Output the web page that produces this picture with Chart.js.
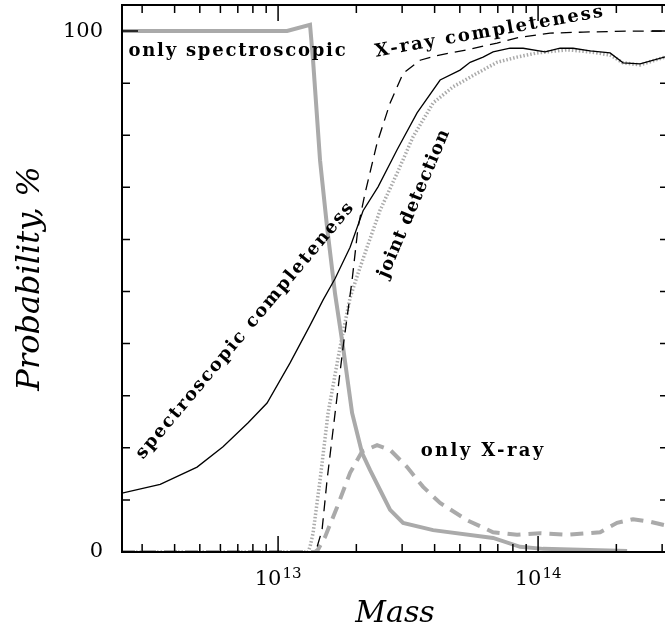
<!DOCTYPE html>
<html>
<head>
<meta charset="utf-8">
<script src="https://cdn.jsdelivr.net/npm/chart.js@4/dist/chart.umd.min.js"></script>
<style>
  html, body { margin: 0; padding: 0; overflow: hidden; background: #fff; }
  #wrap { width: 669px; height: 631px; }
</style>
</head>
<body>
<div id="wrap"><canvas id="myChart" width="669" height="631"></canvas></div>
<script>
// spectroscopic completeness (thin black)
const specMass = [2.51e12, 3.52e12, 4.88e12, 6.14e12, 7.67e12, 9.07e12, 1.112e13, 1.327e13, 1.49e13, 1.657e13,
  1.892e13, 2.123e13, 2.424e13, 2.869e13, 3.424e13, 4.2e13, 5.01e13, 5.477e13, 6.145e13, 6.713e13,
  7.8e13, 8.76e13, 1.064e14, 1.215e14, 1.363e14, 1.585e14, 1.892e14, 2.123e14, 2.468e14, 3.16e14]
const specProb = [11.3, 13.0, 16.3, 20.2, 24.8, 28.6, 36.3, 43.5, 48.4, 52.5,
  58.5, 65.5, 70.1, 77.2, 84.3, 90.6, 92.5, 94.0, 95.0, 96.0,
  96.7, 96.7, 96.0, 96.7, 96.7, 96.2, 95.8, 93.9, 93.7, 95.2]

// X-ray completeness (black dashed)
const xrayMass = [2.51e12, 1.363e13, 1.413e13, 1.476e13, 1.543e13, 1.657e13, 1.778e13, 1.926e13, 2.031e13, 2.161e13,
  2.403e13, 2.697e13, 3.026e13, 3.517e13, 4.089e13, 5.333e13, 6.955e13, 8.3e13, 1.112e14, 1.49e14, 2.259e14, 3.16e14]
const xrayProb = [0, 0, 1.0, 4.2, 13.8, 26.7, 39.3, 52.2, 62.4, 68.9,
  78.5, 86.2, 91.9, 94.4, 95.3, 96.4, 97.7, 98.7, 99.6, 99.8, 100, 100]

// joint detection (grey dotted)
const jointMass = [2.51e12, 1.304e13, 1.327e13, 1.363e13, 1.45e13, 1.557e13, 1.731e13, 1.892e13, 2.031e13, 2.199e13,
  2.468e13, 2.869e13, 3.305e13, 3.946e13, 4.711e13, 5.827e13, 6.955e13, 8.3e13, 9.91e13, 1.293e14,
  1.585e14, 1.892e14, 2.123e14, 2.468e14, 3.16e14]
const jointProb = [0, 0, 1.0, 3.6, 13.8, 26.7, 39.3, 48.8, 53.5, 58.5,
  65.6, 72.7, 79.7, 86.2, 89.3, 91.9, 94.0, 95.0, 95.8, 96.4,
  96.0, 95.4, 93.9, 93.5, 95.2]

// only spectroscopic (thick grey)
const onlySpecMass = [2.51e12, 1.083e13, 1.327e13, 1.363e13, 1.45e13, 1.543e13, 1.657e13, 1.778e13, 1.926e13, 2.104e13,
  2.259e13, 2.468e13, 2.697e13, 3.026e13, 3.946e13, 6.713e13, 8.53e13, 1.045e14, 2.2e14]
const onlySpecProb = [100, 100, 101.2, 94.4, 75.2, 62.4, 49.5, 39.3, 26.7, 19.0,
  15.7, 11.9, 8.1, 5.6, 4.2, 2.7, 1.0, 0.6, 0.2]

// only X-ray (thick grey dashed)
const onlyXrayMass = [2.51e12, 1.388e13, 1.425e13, 1.516e13, 1.686e13, 1.892e13, 2.104e13, 2.403e13, 2.697e13, 3.135e13,
  3.613e13, 4.2e13, 5.333e13, 6.713e13, 8.3e13, 1.018e14, 1.293e14, 1.732e14, 2.013e14, 2.32e14, 2.697e14, 3.16e14]
const onlyXrayProb = [0, 0, 0.5, 2.9, 8.6, 15.2, 19.3, 20.5, 19.6, 16.3,
  12.5, 9.4, 6.1, 3.8, 3.3, 3.6, 3.3, 3.8, 5.6, 6.3, 5.8, 5.0]

const xMajorTicks = [1e13, 1e14]
const xMinorTicks = [3e12, 4e12, 5e12, 6e12, 7e12, 8e12, 9e12,
  2e13, 3e13, 4e13, 5e13, 6e13, 7e13, 8e13, 9e13, 2e14, 3e14]
const yLabelTicks = [0, 100]
const yMinorTicks = [10, 20, 30, 40, 50, 60, 70, 80, 90]

const toPoints = (xs, ys) => xs.map((m, i) => ({ x: m, y: ys[i] }))

const notes = [
  { text: 'only spectroscopic', x: 237, y: 51, angle: 0, width: 219 },
  { text: 'X-ray completeness', x: 489, y: 32, angle: -10, width: 233 },
  { text: 'spectroscopic completeness', x: 245, y: 331, angle: -50, width: 330 },
  { text: 'joint detection', x: 414, y: 204, angle: -67, width: 160 },
  { text: 'only X-ray', x: 482, y: 451, angle: 0, width: 125 }
]

const frameAndNotes = {
  id: 'frameAndNotes',
  afterDatasetsDraw(chart) {
    const { ctx, chartArea: a, scales: { x, y } } = chart
    ctx.save()
    ctx.strokeStyle = '#000'
    ctx.lineWidth = 1.5
    ctx.beginPath()
    const yTick = (v, len) => {
      const py = y.getPixelForValue(v)
      ctx.moveTo(a.left, py); ctx.lineTo(a.left + len, py)
      ctx.moveTo(a.right, py); ctx.lineTo(a.right - len, py)
    }
    const xTick = (v, len) => {
      const px = x.getPixelForValue(v)
      ctx.moveTo(px, a.bottom); ctx.lineTo(px, a.bottom - len)
      ctx.moveTo(px, a.top); ctx.lineTo(px, a.top + len)
    }
    yLabelTicks.forEach(v => yTick(v, 16))
    yMinorTicks.forEach(v => yTick(v, 8))
    xMajorTicks.forEach(v => xTick(v, 16))
    xMinorTicks.forEach(v => xTick(v, 8))
    ctx.stroke()
    ctx.lineWidth = 2
    ctx.strokeRect(a.left, a.top, a.right - a.left, a.bottom - a.top)

    // x tick labels: 10 with a raised exponent
    ctx.fillStyle = '#000'
    ctx.textBaseline = 'alphabetic'
    for (const v of xMajorTicks) {
      const px = x.getPixelForValue(v)
      const exp = String(Math.round(Math.log10(v)))
      ctx.font = '21px "DejaVu Serif"'
      const wb = ctx.measureText('10').width
      ctx.font = '15px "DejaVu Serif"'
      const we = ctx.measureText(exp).width
      const x0 = px - (wb + we + 1) / 2
      ctx.textAlign = 'left'
      ctx.font = '21px "DejaVu Serif"'
      ctx.fillText('10', x0, a.bottom + 33)
      ctx.font = '15px "DejaVu Serif"'
      ctx.fillText(exp, x0 + wb + 1, a.bottom + 26)
    }

    ctx.font = 'bold 18px "DejaVu Serif"'
    ctx.textAlign = 'center'
    ctx.textBaseline = 'middle'
    for (const n of notes) {
      ctx.letterSpacing = '0px'
      const w = ctx.measureText(n.text).width
      const ls = (n.width - w) / n.text.length
      ctx.letterSpacing = ls + 'px'
      ctx.save()
      ctx.translate(n.x, n.y)
      ctx.rotate(n.angle * Math.PI / 180)
      ctx.fillText(n.text, ls / 2, 0)
      ctx.restore()
    }
    ctx.restore()
  }
}

const ctx = document.getElementById('myChart')
new Chart(ctx, {
  type: 'line',
  data: {
    datasets: [
      { data: toPoints(specMass, specProb), borderColor: '#000', borderWidth: 1.3 },
      { data: toPoints(xrayMass, xrayProb), borderColor: '#000', borderWidth: 1.3, borderDash: [11, 7] },
      { data: toPoints(jointMass, jointProb), borderColor: '#aaaaaa', borderWidth: 3.5, borderDash: [1.5, 2] },
      { data: toPoints(onlySpecMass, onlySpecProb), borderColor: '#aaaaaa', borderWidth: 4 },
      { data: toPoints(onlyXrayMass, onlyXrayProb), borderColor: '#aaaaaa', borderWidth: 4, borderDash: [13, 8] }
    ]
  },
  options: {
    responsive: false,
    animation: false,
    devicePixelRatio: 1,
    layout: { padding: { left: 0, top: 5, right: 1, bottom: 0 } },
    elements: {
      point: { radius: 0 },
      line: { tension: 0, fill: false, borderCapStyle: 'butt' }
    },
    scales: {
      x: {
        type: 'logarithmic',
        min: 2.51e12,
        max: 3.16e14,
        grid: { display: false },
        border: { display: false },
        afterBuildTicks: (s) => { s.ticks = xMajorTicks.map(v => ({ value: v })) },
        afterFit: (s) => { s.height = 79; s.paddingLeft = 0; s.paddingRight = 0 },
        ticks: { display: false },
        title: {
          display: true,
          text: 'Mass',
          color: '#000',
          padding: { top: 0, bottom: 0 },
          font: { family: '"DejaVu Serif"', size: 30, style: 'italic', lineHeight: 1.1 }
        }
      },
      y: {
        min: 0,
        max: 105,
        grid: { display: false },
        border: { display: false },
        afterBuildTicks: (s) => { s.ticks = yLabelTicks.map(v => ({ value: v })) },
        afterFit: (s) => { s.width = 122; s.paddingTop = 0; s.paddingBottom = 0 },
        ticks: {
          padding: 11,
          color: '#000',
          font: { family: '"DejaVu Serif"', size: 21 }
        },
        title: {
          display: true,
          text: 'Probability, %',
          color: '#000',
          padding: { top: 11, bottom: 0 },
          font: { family: '"DejaVu Serif"', size: 32, style: 'italic' }
        }
      }
    },
    plugins: {
      legend: { display: false },
      tooltip: { enabled: false }
    }
  },
  plugins: [frameAndNotes]
})
</script>
</body>
</html>
